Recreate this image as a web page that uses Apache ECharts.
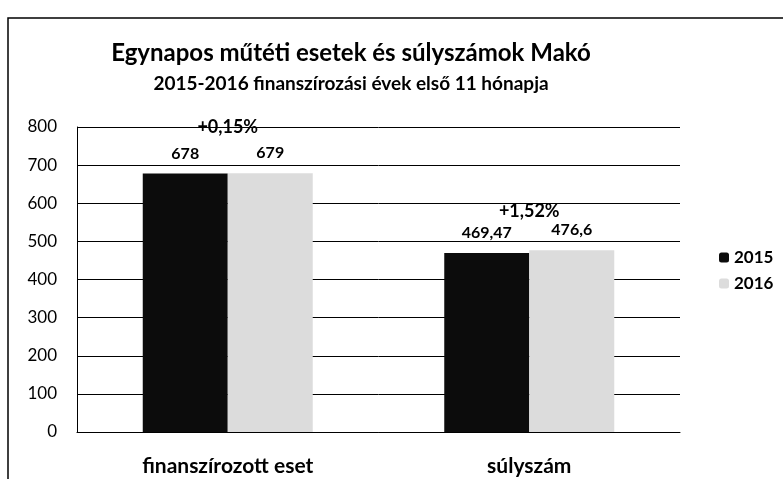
<!DOCTYPE html>
<html>
<head>
<meta charset="utf-8">
<script src="https://cdn.jsdelivr.net/npm/echarts@6/dist/echarts.min.js"></script>
<style>
  html, body { margin: 0; padding: 0; background: #fff; }
  #main { width: 783px; height: 479px; }
</style>
</head>
<body>
<div id="main"></div>
<script>
// adatok
var categories = ['finanszírozott eset', 'súlyszám'];
var years = ['2015', '2016'];
var values2015 = [678, 469.47];
var values2016 = [679, 476.6];
var changeLabels = ['+0,15%', '+1,52%'];
var changeLevels = [800, 580];

var fmt = function (v) { return String(v).replace('.', ','); };
var font = 'Lato, "Open Sans", sans-serif';

var myChart = echarts.init(document.getElementById('main'));

myChart.setOption({
  animation: false,
  textStyle: { fontFamily: font, color: '#000' },
  title: {
    text: 'Egynapos műtéti esetek és súlyszámok Makó',
    subtext: '2015-2016 finanszírozási évek első 11 hónapja',
    left: 346,
    textAlign: 'center',
    top: 36,
    itemGap: 9,
    textStyle: { fontFamily: font, fontSize: 24, fontWeight: 'bold', color: '#000' },
    subtextStyle: { fontFamily: font, fontSize: 19, fontWeight: 'bold', color: '#000' }
  },
  legend: {
    orient: 'vertical',
    left: 714,
    top: 244,
    itemWidth: 10,
    itemHeight: 10,
    itemGap: 9,
    data: years,
    textStyle: { fontFamily: font, fontSize: 17, fontWeight: 'bold', color: '#000' }
  },
  grid: { left: 77, right: 103, top: 127, bottom: 47 },
  xAxis: {
    type: 'category',
    data: categories,
    axisTick: { show: false },
    axisLine: { lineStyle: { color: '#000' } },
    axisLabel: { fontFamily: font, fontSize: 21, fontWeight: 'bold', color: '#000', margin: 24 }
  },
  yAxis: {
    type: 'value',
    min: 0,
    max: 800,
    interval: 100,
    axisLine: { show: true, lineStyle: { color: '#000' } },
    axisTick: { show: false },
    splitLine: { lineStyle: { color: '#000', width: 1 } },
    axisLabel: { fontFamily: font, fontSize: 17, color: '#000', margin: 20 }
  },
  series: [
    {
      name: '2015',
      type: 'bar',
      data: values2015,
      barWidth: 85,
      barGap: '0%',
      itemStyle: { color: '#0c0c0c' },
      label: {
        show: true, position: 'top', distance: 12,
        fontFamily: font, fontSize: 16, fontWeight: 'bold', color: '#000',
        formatter: function (p) { return fmt(p.value); }
      }
    },
    {
      name: '2016',
      type: 'bar',
      data: values2016,
      barWidth: 85,
      itemStyle: { color: '#dcdcdc' },
      label: {
        show: true, position: 'top', distance: 12,
        fontFamily: font, fontSize: 16, fontWeight: 'bold', color: '#000',
        formatter: function (p) { return fmt(p.value); }
      }
    },
    {
      // változás feliratok a kategóriák közepén
      name: 'valtozas',
      type: 'line',
      data: [],
      silent: true,
      markPoint: {
        symbol: 'rect',
        symbolSize: 1,
        itemStyle: { color: 'rgba(0,0,0,0)' },
        label: {
          show: true, position: 'inside',
          fontFamily: font, fontSize: 18, fontWeight: 'bold', color: '#000',
          formatter: function (p) { return p.name; }
        },
        data: categories.map(function (c, i) {
          return { name: changeLabels[i], coord: [c, changeLevels[i]] };
        })
      }
    }
  ],
  graphic: [
    {
      type: 'polyline',
      shape: { points: [[8, 479], [8, 18], [783, 18]] },
      style: { stroke: '#000', lineWidth: 1.5, fill: null }
    }
  ]
});
</script>
</body>
</html>
